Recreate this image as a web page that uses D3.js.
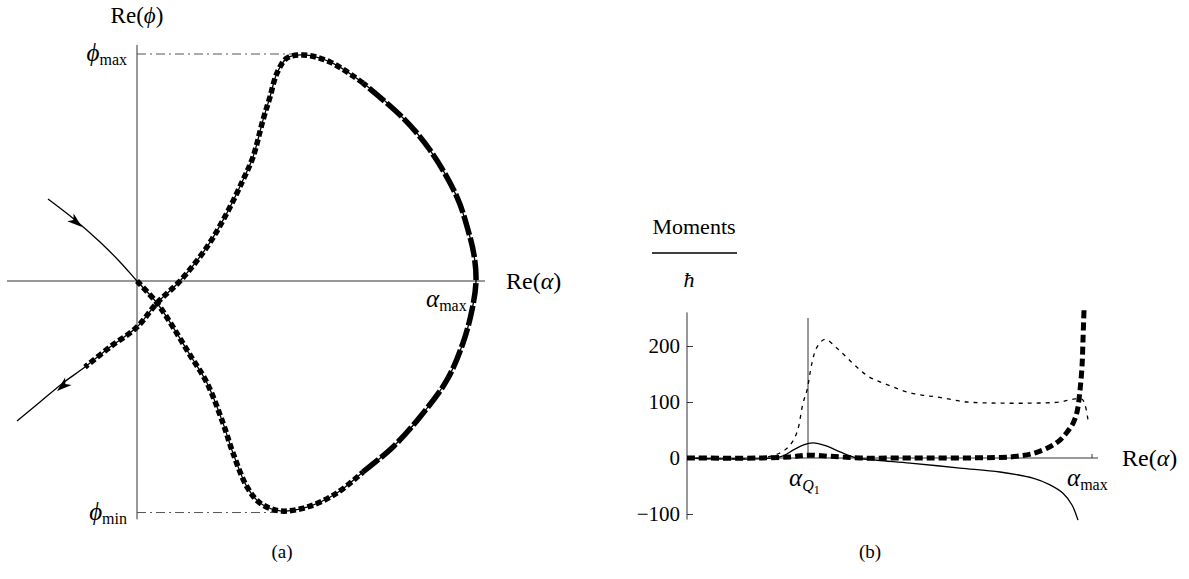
<!DOCTYPE html>
<html>
<head>
<meta charset="utf-8">
<script src="https://cdn.jsdelivr.net/npm/d3@7"></script>
<style>
  body { margin: 0; background: #fff; }
  svg { display: block; }
  svg text { font-family: "Liberation Serif", "Times New Roman", serif; }
  .axis-line { stroke: #333; stroke-width: 1; fill: none; }
</style>
</head>
<body>
<svg id="chart" width="1189" height="579"></svg>
<script>
// ---- panel (a): Re(phi) vs Re(alpha) contour ----
const phiMax = 1.0;
const phiMin = -1.02;

const entryBranch = [[-0.89, 0.361], [-0.62, 0.269], [-0.37, 0.172], [-0.17, 0.084], [0, 0]];
const loopLower = [[0, 0], [0.20, -0.097], [0.36, -0.203], [0.53, -0.326], [0.70, -0.449], [0.86, -0.626],
  [0.96, -0.758], [1.10, -0.907], [1.23, -0.978], [1.43, -1.013], [1.70, -0.996], [2.00, -0.934], [2.26, -0.841]];
const loopRight = [[2.26, -0.841], [2.56, -0.731], [2.83, -0.599], [3.10, -0.436], [3.26, -0.273], [3.35, -0.128],
  [3.39, 0], [3.37, 0.115], [3.31, 0.225], [3.20, 0.370], [2.93, 0.577], [2.66, 0.718], [2.26, 0.872]];
const loopUpper = [[2.26, 0.872], [1.93, 0.965], [1.66, 0.996], [1.50, 0.982], [1.40, 0.916], [1.33, 0.811],
  [1.26, 0.709], [1.16, 0.546], [1.06, 0.445], [0.90, 0.300], [0.70, 0.150], [0.43, 0], [0.20, -0.097],
  [0, -0.203], [-0.27, -0.291], [-0.52, -0.379]];
const exitBranch = [[-0.52, -0.379], [-0.74, -0.449], [-0.97, -0.533], [-1.20, -0.617]];
// arrow tip and a point behind it
const arrows = [
  { tip: [-0.55, 0.238], back: [-0.89, 0.361] },
  { tip: [-0.80, -0.485], back: [-0.52, -0.379] }
];

// ---- panel (b): moments / hbar ----
const alphaQ1 = 1.21;
const alphaMaxB = 4.05;
const yTicks = [-100, 0, 100, 200];

const momentThick = [[0, 0], [0.73, 0], [1.03, 2], [1.21, 5], [1.43, 3], [1.73, 0], [2.13, 0], [3.13, 1],
  [3.30, 3], [3.46, 8], [3.63, 20], [3.73, 32], [3.80, 46], [3.86, 62], [3.90, 82], [3.93, 121],
  [3.95, 163], [3.96, 211], [3.97, 264]];
const momentDotted = [[0, 0], [0.73, 0], [0.93, 9], [1.03, 23], [1.10, 46], [1.16, 98], [1.20, 121],
  [1.25, 170], [1.30, 198], [1.38, 212], [1.50, 196], [1.60, 179], [1.70, 162], [1.81, 146], [1.93, 136],
  [2.06, 127], [2.20, 118], [2.36, 112], [2.50, 109], [2.80, 100], [3.13, 98], [3.46, 98], [3.73, 100],
  [3.86, 105], [3.95, 105], [3.98, 95], [4.01, 68]];
const momentSolid = [[0, 0], [0.93, 2], [1.06, 14], [1.16, 23], [1.26, 27], [1.40, 21], [1.53, 11],
  [1.70, 0], [1.90, -4], [2.23, -9], [2.73, -18], [3.13, -25], [3.46, -36], [3.63, -48], [3.76, -63],
  [3.85, -84], [3.91, -111]];

const svg = d3.select('#chart');

// small helper for "symbol + subscript" labels
function subLabel(g, x, y, sym, sub, sub2) {
  const t = g.append('text').attr('x', x).attr('y', y);
  t.append('tspan').attr('font-style', 'italic').attr('font-size', 25).text(sym);
  const s = t.append('tspan').attr('font-size', 16).attr('dy', 4).text(sub);
  if (sub2) {
    s.attr('font-style', 'italic').attr('dy', 5);
    t.append('tspan').attr('font-size', 12).attr('dy', 3).text(sub2);
  }
  return t;
}

// ================= (a) =================
const xL = d3.scaleLinear().domain([-1.3, 3.48]).range([7, 485]);
const yL = d3.scaleLinear().domain([-1, 1]).range([508, 54]);
const gA = svg.append('g');

gA.append('line').attr('class', 'axis-line')
  .attr('x1', xL(-1.3)).attr('x2', xL(3.48)).attr('y1', yL(0)).attr('y2', yL(0));
gA.append('line').attr('class', 'axis-line')
  .attr('x1', xL(0)).attr('x2', xL(0)).attr('y1', yL(1.04)).attr('y2', yL(-1.05));

// phi max / min guides
[[phiMax, 1.55], [phiMin, 1.38]].forEach(([v, end]) => {
  gA.append('line')
    .attr('x1', xL(0)).attr('x2', xL(end)).attr('y1', yL(v)).attr('y2', yL(v))
    .attr('stroke', '#555').attr('stroke-width', 1).attr('stroke-dasharray', '9,4,2,4');
});

const lineA = d3.line().x(d => xL(d[0])).y(d => yL(d[1])).curve(d3.curveCatmullRom.alpha(0.5));
const fullPath = entryBranch.concat(loopLower.slice(1), loopRight.slice(1), loopUpper.slice(1), exitBranch.slice(1));

gA.append('path').datum(fullPath).attr('d', lineA)
  .attr('fill', 'none').attr('stroke', '#000').attr('stroke-width', 1.3);

[[loopLower, '6,3'], [loopRight, '20,3'], [loopUpper, '6,3']].forEach(([pts, dash]) => {
  gA.append('path').datum(pts).attr('d', lineA)
    .attr('fill', 'none').attr('stroke', '#000').attr('stroke-width', 5.5)
    .attr('stroke-dasharray', dash);
});

arrows.forEach(a => {
  const tx = xL(a.tip[0]), ty = yL(a.tip[1]);
  const ang = Math.atan2(ty - yL(a.back[1]), tx - xL(a.back[0])) * 180 / Math.PI;
  gA.append('path')
    .attr('d', 'M0,0 L-15,-5 L-11,0 L-15,5 Z')
    .attr('transform', `translate(${tx},${ty}) rotate(${ang})`)
    .attr('fill', '#000');
});

const labelA = gA.append('g').attr('font-size', 23).attr('fill', '#000');
let t = labelA.append('text').attr('x', xL(0)).attr('y', 23).attr('text-anchor', 'middle');
t.append('tspan').text('Re(');
t.append('tspan').attr('font-style', 'italic').text('ϕ');
t.append('tspan').text(')');

subLabel(labelA, 127, yL(phiMax) + 7, 'ϕ', 'max').attr('text-anchor', 'end');
subLabel(labelA, 127, yL(phiMin) + 7, 'ϕ', 'min').attr('text-anchor', 'end');

t = labelA.append('text').attr('x', 506).attr('y', yL(0) + 8).attr('font-size', 24);
t.append('tspan').text('Re(');
t.append('tspan').attr('font-style', 'italic').text('α');
t.append('tspan').text(')');

subLabel(labelA, 426, yL(0) + 26, 'α', 'max');

svg.append('text').attr('x', 282).attr('y', 558).attr('text-anchor', 'middle')
  .attr('font-size', 19).text('(a)');

// ================= (b) =================
const xR = d3.scaleLinear().domain([0, 4.11]).range([687, 1098]);
const yR = d3.scaleLinear().domain([-100, 200]).range([514, 346]);
const gB = svg.append('g');

const yAxis = d3.axisLeft(yR).tickValues(yTicks).tickSizeInner(-6).tickSizeOuter(0).tickPadding(7);
const yg = gB.append('g').attr('transform', `translate(${xR(0)},0)`).call(yAxis);
yg.select('.domain').remove();
yg.attr('font-family', null).attr('font-size', null);
yg.selectAll('.tick line').attr('stroke', '#333');
yg.selectAll('.tick text').style('font-size', '21px').style('font-family', '"Liberation Serif", serif').attr('fill', '#000');

gB.append('line').attr('class', 'axis-line')
  .attr('x1', xR(0)).attr('x2', xR(0)).attr('y1', yR(260)).attr('y2', yR(-110));
gB.append('line').attr('class', 'axis-line')
  .attr('x1', xR(0)).attr('x2', xR(4.11)).attr('y1', yR(0)).attr('y2', yR(0));
gB.append('line').attr('class', 'axis-line')
  .attr('x1', xR(alphaMaxB)).attr('x2', xR(alphaMaxB)).attr('y1', yR(0) - 4).attr('y2', yR(0));
gB.append('line').attr('class', 'axis-line')
  .attr('x1', xR(alphaQ1)).attr('x2', xR(alphaQ1)).attr('y1', yR(250)).attr('y2', yR(0));

const lineB = d3.line().x(d => xR(d[0])).y(d => yR(d[1])).curve(d3.curveCatmullRom.alpha(0.5));

gB.append('path').datum(momentSolid).attr('d', lineB)
  .attr('fill', 'none').attr('stroke', '#000').attr('stroke-width', 1.3);
gB.append('path').datum(momentDotted).attr('d', lineB)
  .attr('fill', 'none').attr('stroke', '#000').attr('stroke-width', 1.3).attr('stroke-dasharray', '4,5');
gB.append('path').datum(momentThick).attr('d', lineB)
  .attr('fill', 'none').attr('stroke', '#000').attr('stroke-width', 5).attr('stroke-dasharray', '8,4');

const labelB = gB.append('g').attr('font-size', 22).attr('fill', '#000');
labelB.append('text').attr('x', 694).attr('y', 234).attr('text-anchor', 'middle').text('Moments');
labelB.append('line').attr('x1', 652).attr('x2', 737).attr('y1', 253).attr('y2', 253)
  .attr('stroke', '#000').attr('stroke-width', 1.5);
labelB.append('text').attr('x', 689).attr('y', 287).attr('text-anchor', 'middle')
  .attr('font-style', 'italic').text('ħ');

t = labelB.append('text').attr('x', 1122).attr('y', yR(0) + 8).attr('font-size', 24);
t.append('tspan').text('Re(');
t.append('tspan').attr('font-style', 'italic').text('α');
t.append('tspan').text(')');

subLabel(labelB, 1067, yR(0) + 28, 'α', 'max');
subLabel(labelB, 789, yR(0) + 28, 'α', 'Q', '1');

svg.append('text').attr('x', 870).attr('y', 558).attr('text-anchor', 'middle')
  .attr('font-size', 19).text('(b)');
</script>
</body>
</html>
